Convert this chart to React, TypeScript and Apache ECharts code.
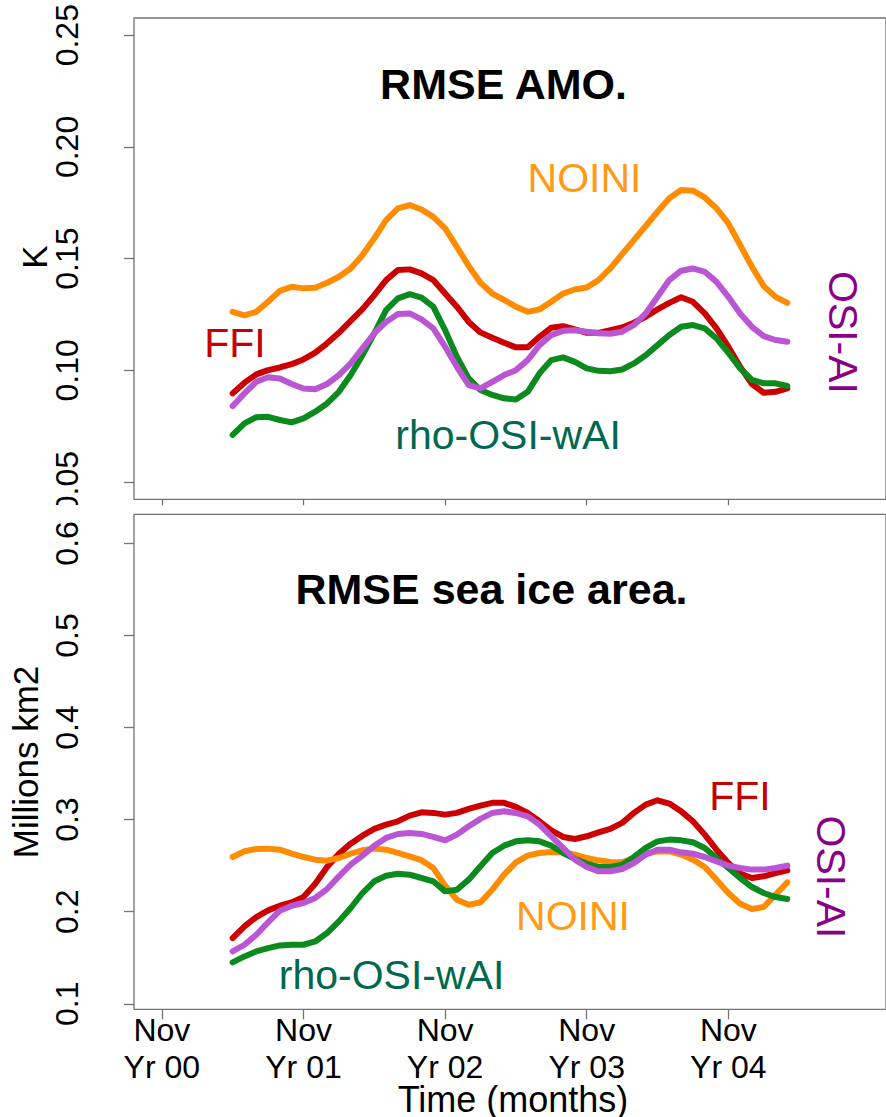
import React, { useEffect, useRef } from "react";
import * as echarts from "echarts";

// ---------- data ----------
const START_MONTH = 6; // first plotted month after "Nov Yr 00"
const X_TICKS = [0, 12, 24, 36, 48];
const X_TICK_LABELS = ["Nov\nYr 00", "Nov\nYr 01", "Nov\nYr 02", "Nov\nYr 03", "Nov\nYr 04"];

const AMO_TICKS = [0.05, 0.1, 0.15, 0.2, 0.25];
const AMO_TICK_LABELS = ["0.05", "0.10", "0.15", "0.20", "0.25"];
const ICE_TICKS = [0.1, 0.2, 0.3, 0.4, 0.5, 0.6];
const ICE_TICK_LABELS = ["0.1", "0.2", "0.3", "0.4", "0.5", "0.6"];

// RMSE AMO (K)
const AMO_NOINI = [
  0.1262, 0.1246, 0.1262, 0.1307, 0.1356, 0.1374, 0.1367, 0.137, 0.1392, 0.1419,
  0.1456, 0.1516, 0.1591, 0.1672, 0.1725, 0.174, 0.172, 0.1687, 0.1635, 0.1553,
  0.1467, 0.1392, 0.1344, 0.1315, 0.1285, 0.1262, 0.1273, 0.1307, 0.1344, 0.1362,
  0.1371, 0.1404, 0.1456, 0.152, 0.1583, 0.1646, 0.171, 0.177, 0.1807, 0.1804,
  0.1774, 0.1725, 0.1658, 0.1561, 0.1464, 0.1377, 0.1329, 0.1302,
];
const AMO_FFI = [
  0.0897, 0.0945, 0.0982, 0.1001, 0.1013, 0.1028, 0.1049, 0.1079, 0.1121, 0.1168,
  0.1221, 0.1274, 0.1337, 0.1404, 0.1449, 0.1452, 0.1434, 0.1404, 0.1344, 0.1285,
  0.1217, 0.117, 0.1146, 0.1124, 0.1103, 0.1103, 0.115, 0.1191, 0.1198, 0.1183,
  0.1168, 0.1168, 0.118, 0.1192, 0.1213, 0.124, 0.1273, 0.1302, 0.1327, 0.1307,
  0.1255, 0.1188, 0.1106, 0.1016, 0.0939, 0.09, 0.0904, 0.0919,
];
const AMO_RHO = [
  0.0711, 0.0763, 0.079, 0.0792, 0.0778, 0.0767, 0.0785, 0.0815, 0.0852, 0.0904,
  0.0979, 0.1068, 0.1166, 0.127, 0.1322, 0.1341, 0.1326, 0.1285, 0.118, 0.1061,
  0.0964, 0.0912, 0.089, 0.0875, 0.087, 0.0904, 0.0987, 0.1046, 0.1058, 0.1038,
  0.1009, 0.0998, 0.0996, 0.1004, 0.1031, 0.1068, 0.1113, 0.1158, 0.1195, 0.1203,
  0.1188, 0.1143, 0.1079, 0.1009, 0.0957, 0.0942, 0.0942, 0.093,
];
const AMO_OSIAI = [
  0.084, 0.0897, 0.0949, 0.0969, 0.0964, 0.0939, 0.0919, 0.0916, 0.0939, 0.0979,
  0.1031, 0.1098, 0.1166, 0.1217, 0.1252, 0.1255, 0.1228, 0.1188, 0.1106, 0.1016,
  0.0934, 0.0919, 0.0949, 0.0979, 0.1001, 0.1046, 0.1113, 0.1158, 0.1177, 0.118,
  0.1173, 0.1166, 0.1164, 0.1173, 0.1203, 0.1255, 0.1329, 0.1404, 0.1446, 0.1456,
  0.1441, 0.1396, 0.1329, 0.1255, 0.1195, 0.1153, 0.1136, 0.1128,
];

// RMSE sea ice area (Millions km2)
const ICE_NOINI = [
  0.2594, 0.2656, 0.2681, 0.2685, 0.2674, 0.263, 0.2594, 0.2565, 0.2554, 0.2583,
  0.263, 0.2667, 0.2685, 0.2674, 0.2638, 0.2601, 0.256, 0.2475, 0.2283, 0.213,
  0.2076, 0.2101, 0.2239, 0.2402, 0.2536, 0.2609, 0.2638, 0.2649, 0.2645, 0.262,
  0.2583, 0.2558, 0.254, 0.2536, 0.2583, 0.263, 0.2655, 0.2655, 0.262, 0.2565,
  0.2486, 0.2348, 0.2203, 0.2087, 0.2029, 0.2051, 0.2185, 0.2318,
];
const ICE_FFI = [
  0.1714, 0.184, 0.1942, 0.2014, 0.2065, 0.2101, 0.2159, 0.2304, 0.2486, 0.263,
  0.2739, 0.2826, 0.2899, 0.2946, 0.2982, 0.3043, 0.308, 0.3073, 0.3054, 0.3073,
  0.3116, 0.3152, 0.3182, 0.3182, 0.3138, 0.3073, 0.2982, 0.2884, 0.2812, 0.279,
  0.2819, 0.2862, 0.29, 0.2964, 0.3073, 0.3163, 0.321, 0.3174, 0.309, 0.2982,
  0.2837, 0.2674, 0.2529, 0.2413, 0.2366, 0.2384, 0.242, 0.2449,
];
const ICE_RHO = [
  0.1449, 0.1514, 0.1569, 0.1605, 0.1634, 0.1641, 0.1641, 0.1677, 0.1768, 0.1895,
  0.204, 0.2203, 0.233, 0.2391, 0.2413, 0.2402, 0.2366, 0.233, 0.2221, 0.2239,
  0.2348, 0.2493, 0.2638, 0.2717, 0.2764, 0.2775, 0.2764, 0.2717, 0.2638, 0.2573,
  0.2522, 0.2486, 0.2486, 0.2511, 0.2594, 0.2692, 0.2764, 0.2783, 0.2775, 0.2754,
  0.2692, 0.2583, 0.2475, 0.2366, 0.2268, 0.2203, 0.2159, 0.2138,
];
const ICE_OSIAI = [
  0.1569, 0.1641, 0.175, 0.1884, 0.2011, 0.2065, 0.2094, 0.2149, 0.2246, 0.2384,
  0.2511, 0.2609, 0.2717, 0.2801, 0.2844, 0.2855, 0.2845, 0.2812, 0.2775, 0.2837,
  0.2928, 0.3008, 0.3073, 0.309, 0.3073, 0.3036, 0.2946, 0.2819, 0.2692, 0.2565,
  0.2486, 0.2438, 0.244, 0.2464, 0.2529, 0.262, 0.2674, 0.2674, 0.2645, 0.263,
  0.2594, 0.2547, 0.25, 0.2475, 0.2457, 0.2457, 0.2475, 0.25,
];

// ---------- styling ----------
const FONT = "'Liberation Sans', Arial, Helvetica, sans-serif";
const AXIS_GREY = "#737373";
const C_NOINI = "#FF8C00";
const C_FFI = "#CC0000";
const C_RHO = "#0B8A1E";
const C_OSIAI = "#BA55D3";
const L_NOINI = "#FF9A12";
const L_FFI = "#C40000";
const L_RHO = "#00684E";
const L_OSIAI = "#880088";

const pick = (ticks: number[], labels: string[]) => (v: number) => {
  const i = ticks.findIndex((t) => Math.abs(t - v) < 1e-9);
  return i >= 0 ? labels[i] : "";
};

const toPairs = (vals: number[]) => vals.map((v, i) => [START_MONTH + i, v]);

export default function App() {
  const ref = useRef<HTMLDivElement>(null);

  useEffect(() => {
    if (!ref.current) return;
    const chart = echarts.init(ref.current, undefined, { renderer: "svg" });

    const gridW = 760.9;
    const grids = [
      { left: 134, top: 18, width: gridW, height: 481.3 },
      { left: 134, top: 514.3, width: gridW, height: 495 },
    ].map((g) => ({
      ...g,
      show: true,
      borderColor: AXIS_GREY,
      borderWidth: 1.3,
      backgroundColor: "transparent",
      containLabel: false,
    }));

    const xAxisBase = {
      type: "value" as const,
      min: -2.36,
      max: 61.36,
      axisLine: { show: false, onZero: false },
      splitLine: { show: false },
    };

    const yLabelCommon = {
      rotate: 90,
      margin: 51,
      fontSize: 32,
      fontFamily: FONT,
      color: "#000",
    };

    const line = (name: string, vals: number[], color: string, idx: number, z: number) => ({
      name,
      type: "line" as const,
      xAxisIndex: idx,
      yAxisIndex: idx,
      data: toPairs(vals),
      showSymbol: false,
      symbol: "none",
      z,
      lineStyle: { width: 6, color, cap: "round", join: "round" },
      emphasis: { disabled: true },
    });

    const txt = (
      text: string,
      x: number,
      y: number,
      size: number,
      fill: string,
      opts: { bold?: boolean; rotation?: number } = {}
    ) => ({
      type: "text",
      x,
      y,
      rotation: opts.rotation || 0,
      z: 100,
      style: {
        text,
        fill,
        fontSize: size,
        fontFamily: FONT,
        fontWeight: opts.bold ? "bold" : "normal",
        align: "center",
        verticalAlign: "middle",
      },
    });

    chart.setOption({
      animation: false,
      backgroundColor: "#fff",
      grid: grids,
      xAxis: [
        {
          ...xAxisBase,
          gridIndex: 0,
          axisTick: {
            show: true,
            customValues: X_TICKS,
            length: 6,
            lineStyle: { color: AXIS_GREY, width: 1.3 },
          },
          axisLabel: { show: false },
        },
        {
          ...xAxisBase,
          gridIndex: 1,
          axisTick: {
            show: true,
            customValues: X_TICKS,
            length: 10,
            lineStyle: { color: AXIS_GREY, width: 1.3 },
          },
          axisLabel: {
            show: true,
            customValues: X_TICKS,
            formatter: pick(X_TICKS, X_TICK_LABELS),
            fontSize: 32,
            lineHeight: 37,
            margin: 2,
            fontFamily: FONT,
            color: "#000",
          },
        },
      ],
      yAxis: [
        {
          type: "value",
          gridIndex: 0,
          min: 0.0423,
          max: 0.2577,
          axisLine: { show: false, onZero: false },
          splitLine: { show: false },
          axisTick: {
            show: true,
            customValues: AMO_TICKS,
            length: 10,
            lineStyle: { color: AXIS_GREY, width: 1.3 },
          },
          axisLabel: {
            ...yLabelCommon,
            customValues: AMO_TICKS,
            formatter: pick(AMO_TICKS, AMO_TICK_LABELS),
          },
        },
        {
          type: "value",
          gridIndex: 1,
          min: 0.094,
          max: 0.6316,
          axisLine: { show: false, onZero: false },
          splitLine: { show: false },
          axisTick: {
            show: true,
            customValues: ICE_TICKS,
            length: 10,
            lineStyle: { color: AXIS_GREY, width: 1.3 },
          },
          axisLabel: {
            ...yLabelCommon,
            customValues: ICE_TICKS,
            formatter: pick(ICE_TICKS, ICE_TICK_LABELS),
          },
        },
      ],
      series: [
        line("FFI", AMO_FFI, C_FFI, 0, 2),
        line("NOINI", AMO_NOINI, C_NOINI, 0, 3),
        line("rho-OSI-wAI", AMO_RHO, C_RHO, 0, 4),
        line("OSI-AI", AMO_OSIAI, C_OSIAI, 0, 5),
        line("FFI", ICE_FFI, C_FFI, 1, 2),
        line("NOINI", ICE_NOINI, C_NOINI, 1, 3),
        line("rho-OSI-wAI", ICE_RHO, C_RHO, 1, 4),
        line("OSI-AI", ICE_OSIAI, C_OSIAI, 1, 5),
      ],
      graphic: [
        // clip of the lowest AMO tick label, as in the reference
        {
          type: "rect",
          z: 90,
          shape: { x: 40, y: 505, width: 80, height: 8.5 },
          style: { fill: "#fff" },
        },
        txt("RMSE AMO.", 503.5, 84, 43, "#000", { bold: true }),
        txt("RMSE sea ice area.", 491.5, 588.5, 43, "#000", { bold: true }),
        txt("NOINI", 584.5, 178, 41, L_NOINI),
        txt("FFI", 235, 342.5, 41, L_FFI),
        txt("rho-OSI-wAI", 508, 435, 41, L_RHO),
        txt("OSI-AI", 842.5, 332.5, 41, L_OSIAI, { rotation: -Math.PI / 2 }),
        txt("FFI", 740, 796, 41, L_FFI),
        txt("NOINI", 573, 916, 41, L_NOINI),
        txt("rho-OSI-wAI", 391.5, 975, 41, L_RHO),
        txt("OSI-AI", 830.5, 877, 41, L_OSIAI, { rotation: -Math.PI / 2 }),
        txt("K", 34, 257, 35, "#000", { rotation: Math.PI / 2 }),
        txt("Millions km2", 25.5, 762, 35, "#000", { rotation: Math.PI / 2 }),
        txt("Time (months)", 513, 1099, 36, "#000"),
      ],
    });

    return () => chart.dispose();
  }, []);

  return (
    <div
      ref={ref}
      style={{ position: "absolute", left: 0, top: 0, width: 886, height: 1117, overflow: "hidden" }}
    />
  );
}
